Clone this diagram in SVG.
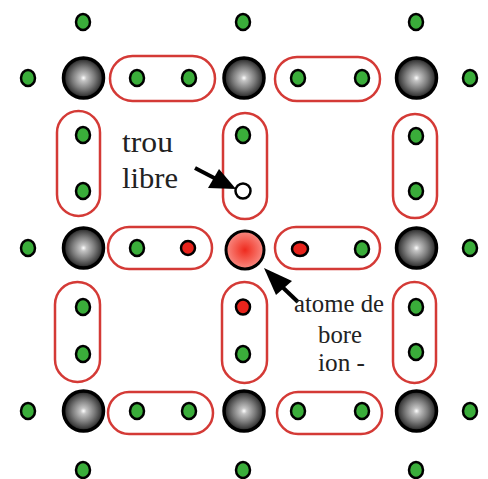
<svg xmlns="http://www.w3.org/2000/svg" width="488" height="479" viewBox="0 0 488 479">
  <defs>
    <radialGradient id="gSi" cx="50%" cy="50%" r="50%">
      <stop offset="0" stop-color="#ffffff"/>
      <stop offset="0.15" stop-color="#c4c4c4"/>
      <stop offset="0.55" stop-color="#7c7c7c"/>
      <stop offset="0.85" stop-color="#404040"/>
      <stop offset="1" stop-color="#151515"/>
    </radialGradient>
    <radialGradient id="gB" cx="50%" cy="50%" r="50%">
      <stop offset="0" stop-color="#ee2a1e"/>
      <stop offset="0.45" stop-color="#f4564a"/>
      <stop offset="1" stop-color="#f88a82"/>
    </radialGradient>
  </defs>
  <style>
    .atom { fill: url(#gSi); stroke: #000; stroke-width: 3.5; }
    .boron { fill: url(#gB); stroke: #000; stroke-width: 3; }
    .bond { fill: none; stroke: #d43a36; stroke-width: 2.5; }
    .e { fill: #3aad3a; stroke: #000; stroke-width: 2.5; }
    .er { fill: #e8241c; stroke: #000; stroke-width: 2.5; }
    .hole { fill: #fff; stroke: #000; stroke-width: 2.5; }
    .lbl { font-family: "Liberation Serif", "Times New Roman", serif; font-size: 29px; fill: #222; }
    .lbl2 { font-family: "Liberation Serif", "Times New Roman", serif; font-size: 25px; fill: #222; }
    .arrow { stroke: #000; stroke-width: 4; fill: none; }
    .head { fill: #000; }
  </style>

  <!-- covalent bond pairs -->
  <g id="bonds">
    <!-- horizontal bonds, top row -->
    <g id="bond-h-1-1"><rect class="bond" x="110" y="56" width="105" height="45" rx="22.5"/><ellipse class="e" cx="137" cy="78" rx="7" ry="8"/><ellipse class="e" cx="189" cy="78" rx="7" ry="8"/></g>
    <g id="bond-h-1-2"><rect class="bond" x="275" y="57" width="105" height="44" rx="22"/><ellipse class="e" cx="298" cy="78" rx="7" ry="8"/><ellipse class="e" cx="362" cy="78" rx="7" ry="8"/></g>
    <!-- vertical bonds, upper band -->
    <g id="bond-v-1-1"><rect class="bond" x="57" y="111" width="43" height="105" rx="21.5"/><ellipse class="e" cx="83" cy="135" rx="7" ry="8"/><ellipse class="e" cx="83" cy="191" rx="7" ry="8"/></g>
    <g id="bond-v-1-2"><rect class="bond" x="223" y="113" width="44" height="106" rx="22"/><ellipse class="e" cx="243" cy="135" rx="7" ry="8"/><circle class="hole" cx="243" cy="191" r="7.5"/></g>
    <g id="bond-v-1-3"><rect class="bond" x="393" y="114" width="44" height="104" rx="22"/><ellipse class="e" cx="416" cy="136" rx="7" ry="8"/><ellipse class="e" cx="416" cy="191" rx="7" ry="8"/></g>
    <!-- horizontal bonds, middle row -->
    <g id="bond-h-2-1"><rect class="bond" x="108" y="227" width="104" height="42" rx="21"/><ellipse class="e" cx="137" cy="248" rx="7" ry="8"/><ellipse class="er" cx="188" cy="248" rx="7" ry="7"/></g>
    <g id="bond-h-2-2"><rect class="bond" x="275" y="227" width="105" height="42" rx="21"/><ellipse class="er" cx="300" cy="249" rx="8" ry="7"/><ellipse class="e" cx="362" cy="249" rx="7" ry="8"/></g>
    <!-- vertical bonds, lower band -->
    <g id="bond-v-2-1"><rect class="bond" x="55" y="282" width="45" height="100" rx="22.5"/><ellipse class="e" cx="83" cy="307" rx="7" ry="8"/><ellipse class="e" cx="83" cy="354" rx="7" ry="8"/></g>
    <g id="bond-v-2-2"><rect class="bond" x="222" y="282" width="45" height="101" rx="22.5"/><ellipse class="er" cx="243" cy="307" rx="7" ry="7.5"/><ellipse class="e" cx="243" cy="354" rx="7" ry="8"/></g>
    <g id="bond-v-2-3"><rect class="bond" x="393" y="282" width="43" height="101" rx="21.5"/><ellipse class="e" cx="416" cy="307" rx="7" ry="8"/><ellipse class="e" cx="416" cy="352" rx="7" ry="8"/></g>
    <!-- horizontal bonds, bottom row -->
    <g id="bond-h-3-1"><rect class="bond" x="108" y="392" width="105" height="42" rx="21"/><ellipse class="e" cx="137" cy="411" rx="7" ry="8"/><ellipse class="e" cx="189" cy="411" rx="7" ry="8"/></g>
    <g id="bond-h-3-2"><rect class="bond" x="277" y="392" width="105" height="42" rx="21"/><ellipse class="e" cx="298" cy="411" rx="7" ry="8"/><ellipse class="e" cx="362" cy="411" rx="7" ry="8"/></g>
  </g>

  <!-- outer valence electrons -->
  <g id="outer-electrons">
    <ellipse class="e" cx="83" cy="22" rx="7" ry="8"/>
    <ellipse class="e" cx="243" cy="22" rx="7" ry="8"/>
    <ellipse class="e" cx="416" cy="22" rx="7" ry="8"/>
    <ellipse class="e" cx="28" cy="78" rx="7" ry="8"/>
    <ellipse class="e" cx="470" cy="78" rx="7" ry="8"/>
    <ellipse class="e" cx="28" cy="248" rx="7" ry="8"/>
    <ellipse class="e" cx="470" cy="248" rx="7" ry="8"/>
    <ellipse class="e" cx="28" cy="411" rx="7" ry="8"/>
    <ellipse class="e" cx="470" cy="411" rx="7" ry="8"/>
    <ellipse class="e" cx="83" cy="470" rx="7" ry="8"/>
    <ellipse class="e" cx="243" cy="470" rx="7" ry="8"/>
    <ellipse class="e" cx="416" cy="470" rx="7" ry="8"/>
  </g>

  <!-- silicon atoms -->
  <g id="si-1-1"><circle class="atom" cx="83.5" cy="78" r="20"/></g>
  <g id="si-1-2"><circle class="atom" cx="244" cy="78" r="20"/></g>
  <g id="si-1-3"><circle class="atom" cx="416.5" cy="78" r="20"/></g>
  <g id="si-2-1"><circle class="atom" cx="83.5" cy="248" r="20"/></g>
  <g id="boron"><circle class="boron" cx="245" cy="250" r="19"/></g>
  <g id="si-2-3"><circle class="atom" cx="416.5" cy="248" r="20"/></g>
  <g id="si-3-1"><circle class="atom" cx="83.5" cy="411" r="20"/></g>
  <g id="si-3-2"><circle class="atom" cx="244" cy="411" r="20"/></g>
  <g id="si-3-3"><circle class="atom" cx="416.5" cy="411" r="20"/></g>

  <!-- pointers -->
  <g id="connectors">
    <line class="arrow" x1="195" y1="168" x2="220" y2="181"/>
    <polygon class="head" points="236,189 208,188 219,169"/>
    <line class="arrow" x1="298" y1="302" x2="276" y2="281"/>
    <polygon class="head" points="264,268 292,281 276,295"/>
  </g>

  <!-- labels -->
  <g id="labels">
    <text class="lbl" x="122" y="152" textLength="51" lengthAdjust="spacingAndGlyphs">trou</text>
    <text class="lbl" x="122" y="188" textLength="56" lengthAdjust="spacingAndGlyphs">libre</text>
    <text class="lbl2" x="294" y="312" textLength="90" lengthAdjust="spacingAndGlyphs">atome de</text>
    <text class="lbl2" x="318" y="343" textLength="44" lengthAdjust="spacingAndGlyphs">bore</text>
    <text class="lbl2" x="318" y="371" textLength="47" lengthAdjust="spacingAndGlyphs">ion -</text>
  </g>
</svg>
